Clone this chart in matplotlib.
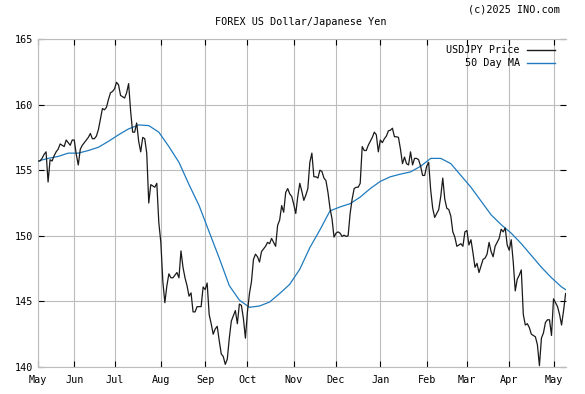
import matplotlib
matplotlib.use("Agg")
import matplotlib.pyplot as plt
from matplotlib.lines import Line2D
import numpy as np
import pandas as pd

plt.rcParams['font.family'] = ['DejaVu Sans Mono']

start_date = '2024-05-08'

price = [
    155.7, 155.7, 155.9, 156.2, 156.4, 154.1, 155.8, 155.7, 156.1, 156.4,
    156.6, 157.0, 156.9, 156.8, 157.3, 157.1, 156.9, 157.3, 157.3, 156.2,
    155.4, 156.6, 156.9, 157.1, 157.3, 157.5, 157.8, 157.4, 157.4, 157.6,
    158.1, 158.9, 159.7, 159.6, 159.8, 160.4, 160.9, 161.0, 161.2, 161.7,
    161.5, 160.7, 160.6, 160.5, 160.9, 161.6, 159.5, 157.9, 157.9, 158.6,
    157.2, 156.4, 157.5, 157.4, 156.3, 152.5, 153.9, 153.8, 153.7, 154.0,
    151.0, 149.5, 146.5, 144.9, 146.2, 147.1, 146.8, 146.8, 147.0, 147.2,
    146.8, 148.85, 147.6, 146.8, 146.2, 145.4, 145.65, 144.2, 144.2, 144.6,
    144.6, 144.6, 146.1, 145.9, 146.4, 144.0, 143.3, 142.5, 142.9, 143.1,
    142.0, 141.0, 140.8, 140.2, 140.6, 142.2, 143.5, 143.9, 144.3, 143.3,
    144.8, 144.7, 143.7, 142.2, 144.2, 145.6, 146.5, 148.2, 148.6, 148.4,
    148.0, 148.8, 149.0, 149.2, 149.5, 149.4, 149.8, 149.5, 149.2, 150.8,
    151.2, 152.3, 151.8, 153.3, 153.6, 153.2, 153.0, 152.4, 151.7, 153.0,
    154.0, 153.4, 152.7, 153.1, 153.6, 155.6, 156.3, 154.5, 154.5, 154.4,
    155.0, 154.9, 154.4, 154.2, 153.3, 152.1, 151.3, 149.9, 150.2, 150.3,
    150.2, 149.95, 150.05, 149.95, 150.0, 151.7, 152.8, 153.6, 153.7, 153.7,
    154.0, 156.8, 156.5, 156.5, 156.9, 157.2, 157.5, 157.9, 157.7, 156.4,
    157.3, 157.1, 157.4, 157.6, 158.0, 158.05, 158.2, 157.55, 157.55, 157.5,
    156.6, 155.5, 156.0, 155.5, 155.4, 156.4, 155.4, 155.9, 155.9, 155.8,
    155.3, 154.6, 154.6, 155.3, 155.6, 153.5, 152.1, 151.4, 151.7, 152.0,
    153.0, 154.4, 152.8, 152.1, 152.0, 151.5, 150.3, 149.9, 149.2, 149.3,
    149.4, 149.2, 150.3, 150.4, 149.3, 149.7, 148.7, 147.6, 147.9, 147.2,
    147.7, 148.2, 148.3, 148.6, 149.5, 148.8, 148.4, 149.2, 149.5, 149.8,
    150.5, 150.3, 150.6, 149.3, 148.9, 149.7, 148.0, 145.8, 146.7, 147.0,
    147.4, 144.0, 143.2, 143.3, 143.0, 142.5, 142.4, 142.3, 141.7, 140.1,
    142.2, 142.6, 143.4, 143.6, 143.6, 142.4, 145.2, 144.9, 144.6, 144.0,
    143.2, 144.3, 145.6,
]

ma_step = 5
ma50 = [
    155.7, 155.9, 156.05, 156.3, 156.3, 156.5, 156.75, 157.2, 157.7, 158.15,
    158.45, 158.4, 157.9, 156.8, 155.6, 153.9, 152.3, 150.3, 148.3, 146.2,
    145.1, 144.55, 144.65, 144.95, 145.6, 146.3, 147.45, 149.1, 150.45, 151.9,
    152.2, 152.45, 152.95, 153.6, 154.15, 154.5, 154.7, 154.87, 155.3, 155.9,
    155.9, 155.5, 154.6, 153.7, 152.65, 151.6, 150.85, 150.2, 149.4, 148.5,
    147.6, 146.8, 146.1, 145.9,
]

yticks = [140, 145, 150, 155, 160, 165]
title = 'FOREX US Dollar/Japanese Yen'
credit = '(c)2025 INO.com'
series_names = ['USDJPY Price', '50 Day MA']
colors = ['#1a1a1a', '#1f7bbf']

W, H = 585, 394
fig = plt.figure(figsize=(W / 100, H / 100), dpi=100)
ax = fig.add_axes([38 / W, 1 - 367 / H, (566 - 38) / W, (367 - 39) / H])

n = len(price)
dates = pd.bdate_range(start_date, periods=n)
x = np.arange(n)
ma_x = list(range(0, n, ma_step))
if ma_x[-1] != n - 1:
    ma_x.append(n - 1)
ma_x = np.array(ma_x[:len(ma50)])

ax.plot(x, price, color=colors[0], lw=0.9, zorder=3)
ax.plot(ma_x, ma50, color=colors[1], lw=0.9, zorder=2)

# month ticks at first trading day of each month
months = dates.month
tick_idx = [0] + [i for i in range(1, n) if months[i] != months[i - 1]]
ax.set_xticks(tick_idx)
ax.set_xticklabels([dates[i].strftime('%b') for i in tick_idx])
ax.set_xlim(0, n - 0.8)

ax.set_ylim(yticks[0], yticks[-1])
ax.set_yticks(yticks)

ax.grid(True, color='#bcbcbc', lw=0.8, zorder=0)
for s in ['left', 'bottom', 'top']:
    ax.spines[s].set_color('#bcbcbc')
    ax.spines[s].set_linewidth(0.8)
ax.spines['right'].set_visible(False)

ax.tick_params(axis='both', direction='in', length=4, width=0.8, color='black',
               labelsize=7.3, top=True, right=True)
ax.tick_params(axis='x', pad=6)
ax.tick_params(axis='y', pad=3.6)

fig.text(301 / W, 1 - 22 / H, title, ha='center', va='center', fontsize=7.3)
fig.text(560 / W, 1 - 9.5 / H, credit, ha='right', va='center', fontsize=7.3)

legend_rows = [50, 62.7]
for name, c, yy in zip(series_names, colors, legend_rows):
    fig.text(520 / W, 1 - yy / H, name, ha='right', va='center', fontsize=7.3)
    fig.add_artist(Line2D([527 / W, 555 / W], [1 - yy / H, 1 - yy / H],
                          transform=fig.transFigure, color=c, lw=1.0))

fig.savefig('out.png', dpi=100)
